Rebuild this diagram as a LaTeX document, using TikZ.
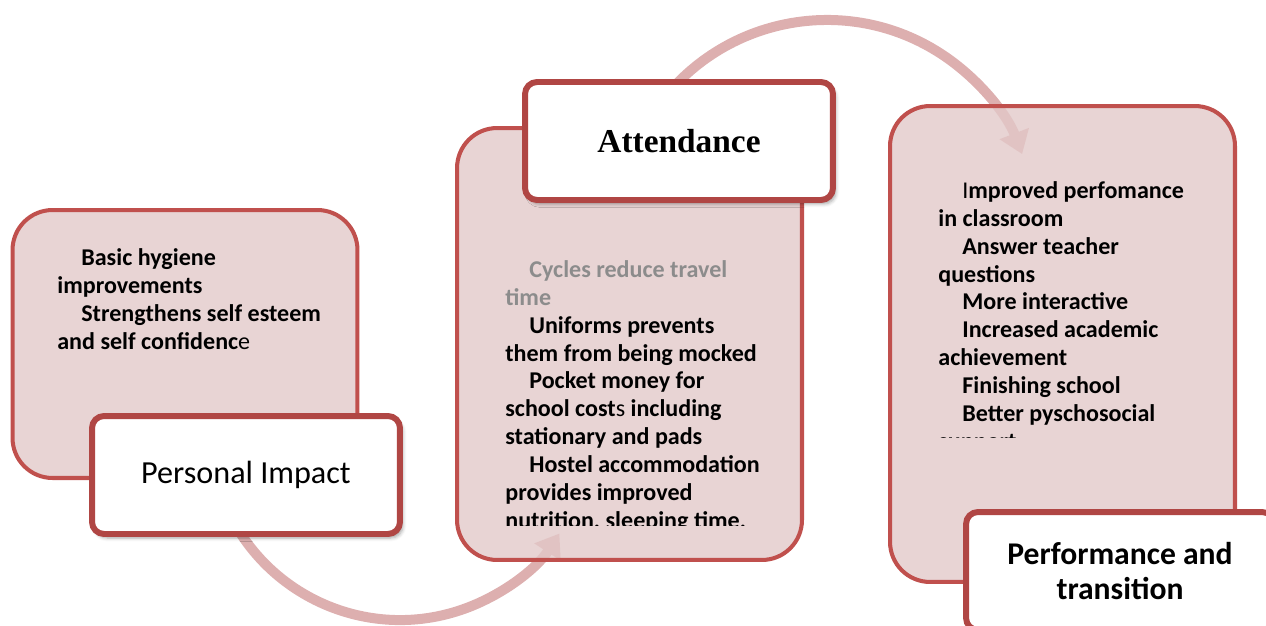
\documentclass[tikz,border=0pt]{standalone}
\usepackage{fontspec}
\setmainfont{Carlito}
\newfontfamily\headserif{Liberation Serif}
\usetikzlibrary{arrows.meta,shadows.blur}

\definecolor{boxred}{RGB}{192,80,77}
\definecolor{tagred}{RGB}{176,70,68}
\definecolor{boxfill}{RGB}{226,201,201}
\definecolor{arcpink}{RGB}{221,175,175}
\definecolor{greytext}{RGB}{140,140,140}

\newcommand{\indnt}{\hspace*{0.48cm}}

\tikzset{
  panel/.style={draw=boxred, line width=2.3pt, fill=boxfill, fill opacity=0.8,
    rounded corners=0.8cm, minimum width=6.9cm},
  tag/.style={draw=tagred, line width=3.4pt, fill=white, rounded corners=0.24cm,
    minimum width=6.16cm, minimum height=2.36cm,
    blur shadow={shadow xshift=0.6mm, shadow yshift=-0.8mm, shadow opacity=35}},
  loop/.style={arcpink, line width=0.2cm, -{Triangle[width=0.6cm,length=0.44cm]}},
  items/.style={anchor=north west, align=left, inner sep=0pt,
    font=\bfseries\fontsize{13.7}{15.9}\selectfont},
}

\begin{document}
\begin{tikzpicture}[x=0.02cm, y=-0.02cm]
      \clip (0,0) rectangle (1266,625);

      % cycle arrows
      \coordinate (lowstart) at (221.5,495);
      \coordinate (topstart) at (655.8,109.1);
      \draw[loop] (lowstart) arc[start angle=160, end angle=33, radius=190];
      \draw[loop] (topstart) arc[start angle=-145, end angle=-21, radius=209];

      % panels
      \node[panel, minimum height=5.36cm] (impact) at (185,344) {};
      \node[panel, minimum height=8.64cm] (attend) at (629.5,344) {};
      \node[panel, minimum height=9.52cm] (perform) at (1062.5,344) {};

      % personal impact
      \node[items] (impacttext) at (57,248) {%
        \indnt Basic hygiene\\
        improvements\\
        \indnt Strengthens self esteem\\
        and self confidenc{\mdseries e}};
      \node[tag, font=\fontsize{18.3}{22}\selectfont] (impacttag) at (246,475) {Personal Impact};

      % attendance
      \begin{scope}
        \clip (457,128) rectangle (802,525);
        \node[items] (attendtext) at (505,260) {%
          \indnt{\color{greytext}Cycles reduce travel}\\
          {\color{greytext}time}\\
          \indnt Uniforms prevents\\
          them from being mocked\\
          \indnt Pocket money for\\
          school cost{\mdseries s} including\\
          stationary and pads\\
          \indnt Hostel accommodation\\
          provides improved\\
          nutrition, sleeping time,};
      \end{scope}
      \node[tag, font=\headserif\bfseries\fontsize{19}{23}\selectfont] (attendtag) at (679,141) {Attendance};

      % performance and transition
      \begin{scope}
        \clip (890,106) rectangle (1235,437);
        \node[items] (performtext) at (938,181) {%
          \indnt{\mdseries I}mproved perfomance\\
          in classroom\\
          \indnt Answer teacher\\
          questions\\
          \indnt More interactive\\
          \indnt Increased academic\\
          achievement\\
          \indnt Finishing school\\
          \indnt Better pyschosocial\\
          support};
      \end{scope}
      \node[tag, align=center, font=\bfseries\fontsize{18}{20.4}\selectfont] (performtag) at (1120,571)
        {Performance and\\transition};
\end{tikzpicture}
\end{document}
